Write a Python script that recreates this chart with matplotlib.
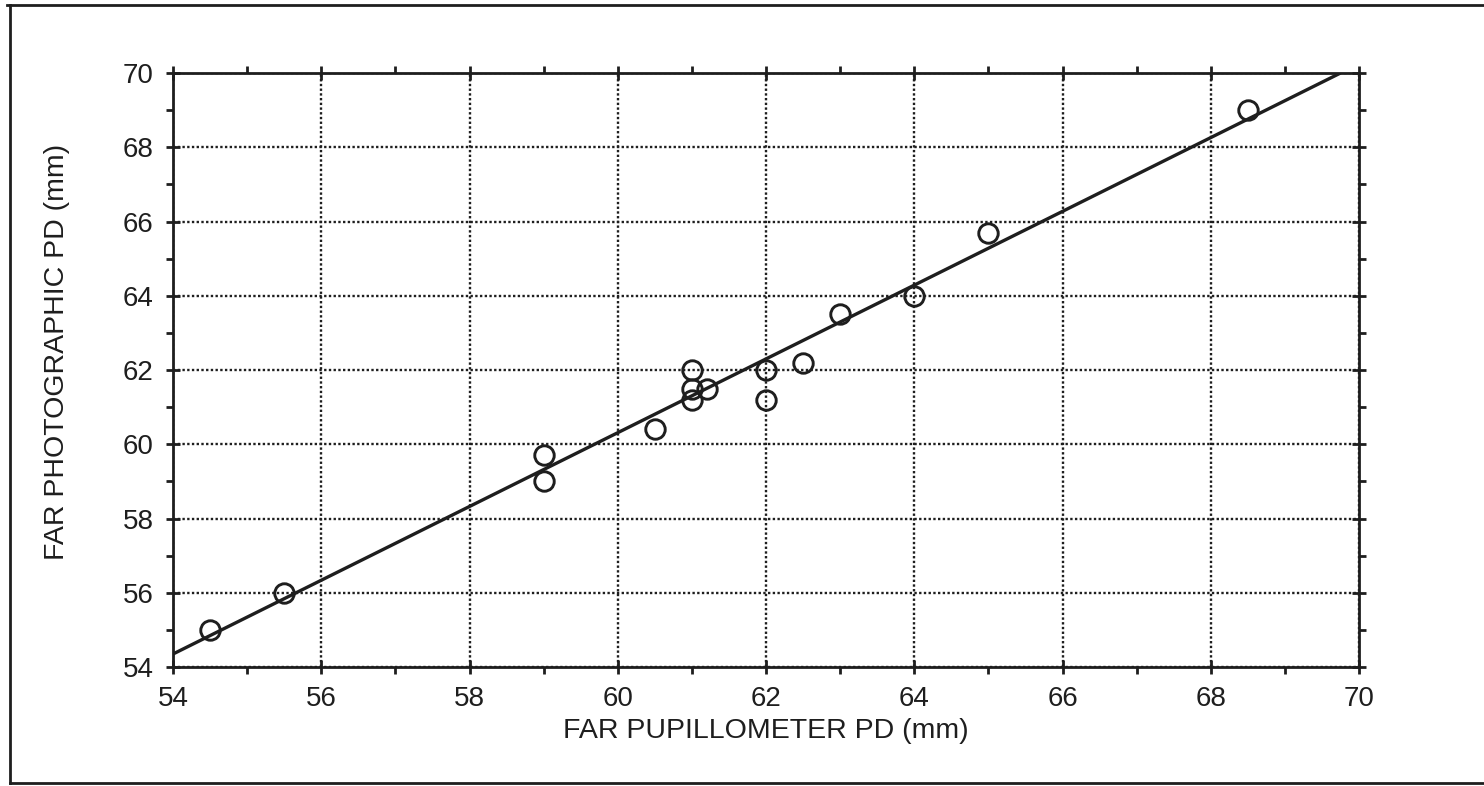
import numpy as np
import matplotlib
matplotlib.use("Agg")
import matplotlib.pyplot as plt
from matplotlib.lines import Line2D
from matplotlib.ticker import MultipleLocator

plt.rcParams['font.family'] = ['Liberation Sans', 'DejaVu Sans']

# data
pupillometer_pd = [54.5, 55.5, 59.0, 59.0, 60.5, 61.0, 61.0, 61.0, 61.2, 62.0, 62.0, 62.5, 63.0, 64.0, 65.0, 68.5]
photographic_pd = [55.0, 56.0, 59.7, 59.0, 60.4, 62.0, 61.5, 61.2, 61.5, 62.0, 61.2, 62.2, 63.5, 64.0, 65.7, 69.0]

# fitted line end points
fit_x = [54.0, 69.75]
fit_y = [54.35, 70.0]

ticks = [54, 56, 58, 60, 62, 64, 66, 68, 70]

ink = '#1e1e1e'

fig = plt.figure(figsize=(14.84, 7.86), dpi=100)
ax = fig.add_axes([0.1166, 0.1514, 0.7992, 0.7557])

ax.plot(fit_x, fit_y, color=ink, lw=2.4, zorder=3, solid_capstyle='butt')
ax.plot(pupillometer_pd, photographic_pd, linestyle='none', marker='o', ms=14,
        mfc='none', mec=ink, mew=2.1, zorder=4)

ax.set_xlim(54, 70)
ax.set_ylim(54, 70)
ax.set_xticks(ticks)
ax.set_yticks(ticks)
ax.xaxis.set_minor_locator(MultipleLocator(1))
ax.yaxis.set_minor_locator(MultipleLocator(1))

ax.grid(True, which='major', color=ink, linestyle=(0, (1, 1)), lw=1.7)
for s in ax.spines.values():
    s.set_linewidth(2.0)
    s.set_color(ink)

ax.tick_params(which='major', direction='inout', length=10, width=2, color=ink,
               top=True, right=True, labelsize=20, pad=9, labelcolor=ink)
ax.tick_params(which='minor', direction='out', length=5, width=2, color=ink,
               top=True, right=True)

ax.set_xlabel('FAR PUPILLOMETER PD (mm)', fontsize=20.5, color=ink, labelpad=4)
ax.set_ylabel('FAR PHOTOGRAPHIC PD (mm)', fontsize=20.5, color=ink)
ax.yaxis.set_label_coords(-0.087, 0.53)

# outer frame of the scanned figure (no right side)
fig.add_artist(Line2D([7 / 1484, 1.0], [1 - 5 / 786, 1 - 5 / 786], transform=fig.transFigure, color=ink, lw=2))
fig.add_artist(Line2D([10 / 1484, 10 / 1484], [1 - 5 / 786, 3 / 786], transform=fig.transFigure, color=ink, lw=2))
fig.add_artist(Line2D([10 / 1484, 1.0], [3 / 786, 3 / 786], transform=fig.transFigure, color=ink, lw=2))

fig.savefig('out.png', dpi=100, facecolor='white')
